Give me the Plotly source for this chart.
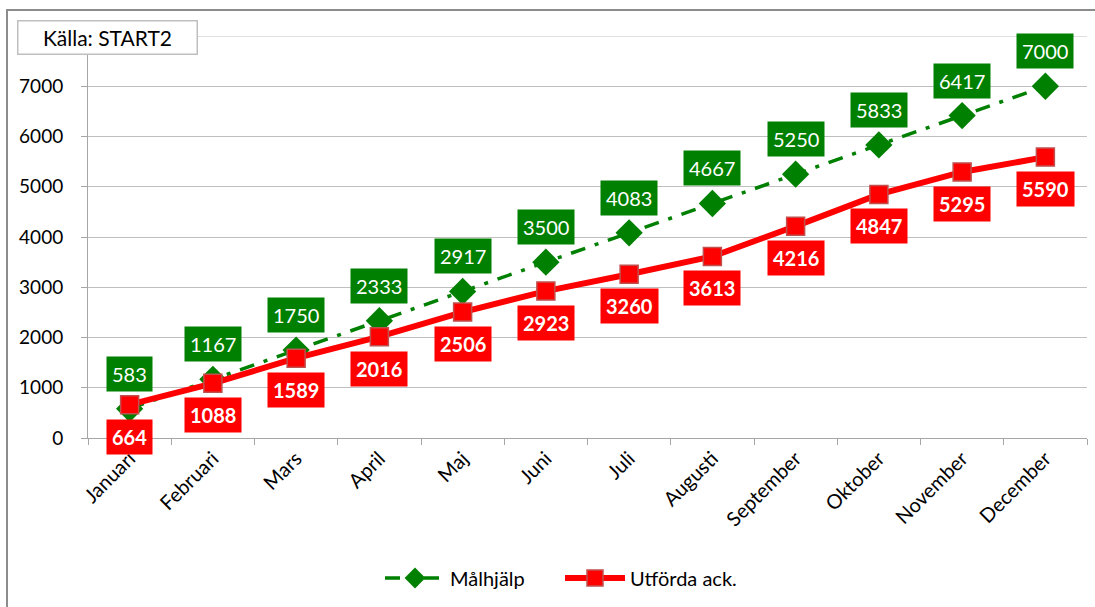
import plotly.graph_objects as go

months = ["Januari", "Februari", "Mars", "April", "Maj", "Juni", "Juli",
          "Augusti", "September", "Oktober", "November", "December"]
malhjalp = [583, 1167, 1750, 2333, 2917, 3500, 4083, 4667, 5250, 5833, 6417, 7000]
utforda = [664, 1088, 1589, 2016, 2506, 2923, 3260, 3613, 4216, 4847, 5295, 5590]

W, H = 1095, 607
L, R, T, B = 88, 8, 36, 169
pw, ph = W - L - R, H - T - B

def px_x(p):
    return (p - L) / pw

def px_y(p):
    return (H - B - p) / ph

FONT = "Lato, 'Open Sans', sans-serif"

fig = go.Figure()
fig.add_trace(go.Scatter(
    x=months, y=malhjalp, name="Målhjälp", mode="lines+markers",
    line=dict(color="#008000", width=3.5, dash="15px,10px,4px,10px"),
    marker=dict(symbol="diamond", size=21, color="#008000"),
))
fig.add_trace(go.Scatter(
    x=months, y=utforda, name="Utförda ack.", mode="lines+markers",
    line=dict(color="#FF0000", width=6),
    marker=dict(symbol="square", size=18, color="#FF0000",
                line=dict(color="#C0504D", width=1.5)),
))

annotations = []
for m, v in zip(months, malhjalp):
    annotations.append(dict(
        x=m, y=v, xref="x", yref="y", text=str(v), showarrow=False,
        yshift=35, bgcolor="#008000", borderpad=5,
        font=dict(family=FONT, size=20, color="white"),
    ))
for m, v in zip(months, utforda):
    annotations.append(dict(
        x=m, y=v, xref="x", yref="y", text="<b>" + str(v) + "</b>", showarrow=False,
        yshift=-32, bgcolor="#FF0000", borderpad=5,
        font=dict(family=FONT, size=20, color="white"),
    ))
annotations.append(dict(
    x=px_x(107), y=px_y(37), xref="paper", yref="paper", text="Källa: START2",
    showarrow=False, xanchor="center", yanchor="middle",
    width=176, height=30, bgcolor="white", bordercolor="#BFBFBF", borderwidth=1.5,
    font=dict(family=FONT, size=21, color="black"),
))

fig.update_layout(
    width=W, height=H,
    margin=dict(l=L, r=R, t=T, b=B),
    paper_bgcolor="white", plot_bgcolor="white",
    font=dict(family=FONT, size=19, color="black"),
    showlegend=True,
    legend=dict(orientation="h", x=px_x(380), xanchor="left", y=px_y(578), yanchor="middle",
                font=dict(family=FONT, size=20, color="black"), itemwidth=60,
                entrywidth=105, entrywidthmode="pixels"),
    annotations=annotations,
    shapes=[dict(type="rect", xref="paper", yref="paper",
                 x0=px_x(7), x1=px_x(1100), y0=px_y(620), y1=px_y(10),
                 line=dict(color="#8C8C8C", width=2), layer="below")],
    xaxis=dict(
        type="category", tickangle=-45, tickson="boundaries",
        ticks="outside", ticklen=6, tickcolor="#A6A6A6",
        showline=True, linecolor="#A6A6A6", linewidth=1, showgrid=False,
        tickfont=dict(family=FONT, size=20, color="black"),
        range=[-0.5, 11.5],
    ),
    yaxis=dict(
        range=[0, 8000], tickvals=list(range(0, 8000, 1000)),
        ticks="outside", ticklen=6, tickcolor="#A6A6A6",
        showline=True, linecolor="#A6A6A6", linewidth=1,
        showgrid=True, gridcolor="#BFBFBF", gridwidth=1,
        zeroline=False, ticklabelstandoff=14,
        tickfont=dict(family=FONT, size=19, color="black"),
    ),
)
fig.add_shape(type="line", xref="paper", yref="y", x0=0, x1=1, y0=8000, y1=8000,
              line=dict(color="#BFBFBF", width=1), layer="below")

fig.write_html("out.html", config={"displayModeBar": False},
               post_script="document.body.style.margin='0';document.body.style.overflow='hidden';")
